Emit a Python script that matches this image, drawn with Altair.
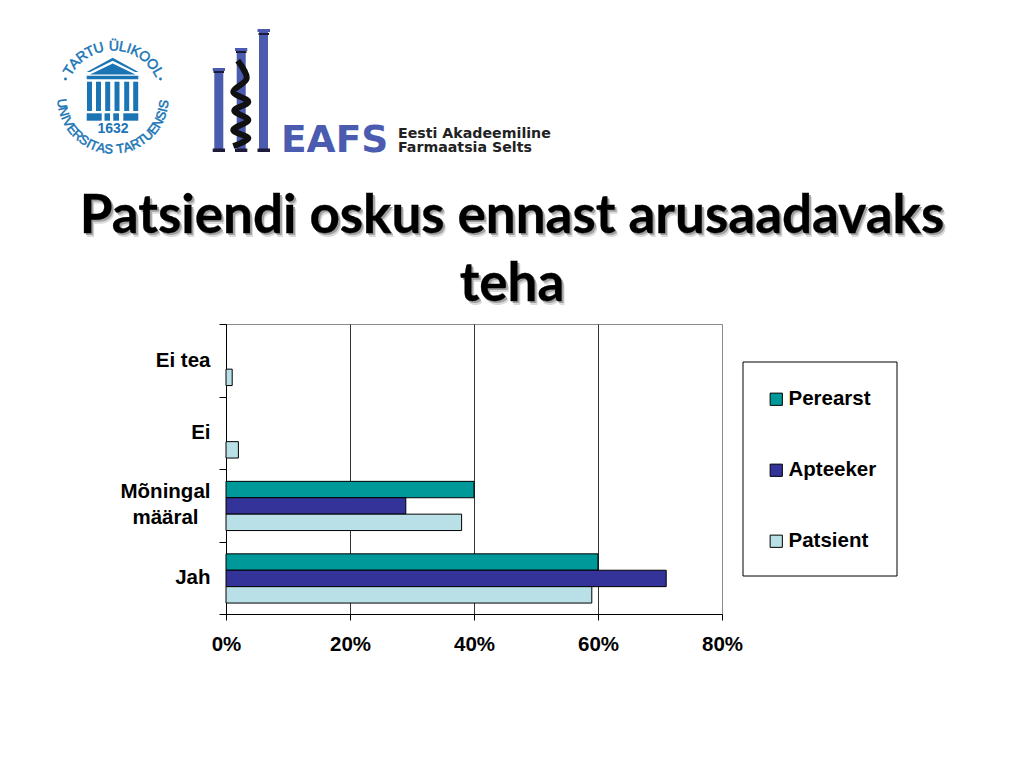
import math
import altair as alt
import pandas as pd

categories = ["Ei tea", "Ei", "Mõningal määral", "Jah"]
series = ["Perearst", "Apteeker", "Patsient"]
perearst = [0, 0, 40, 60]
apteeker = [0, 0, 29, 71]
patsient = [1, 2, 38, 59]
colors = ["#009999", "#333399", "#B9E0E6"]
x_ticks = [0, 20, 40, 60, 80]

OX, OY = 226, 324  # page position of the plot origin
W, H = 496, 290
FONT = "Liberation Sans"
SEAL = "#1B75B5"
EAFS = "#4A5BB0"
LABEL_SIZE = 20.5

rows = []
for name, vals in zip(series, [perearst, apteeker, patsient]):
    for c, v in zip(categories, vals):
        if v > 0:
            rows.append({"cat": c, "series": name, "v": v})
bars_df = pd.DataFrame(rows)

# The two-line category label is centred on itself, so it is a text layer on the same band scale
label_expr = "datum.value == 'Mõningal määral' ? '' : datum.value"

y_enc = alt.Y("cat:N", sort=categories,
              scale=alt.Scale(domain=categories, paddingInner=0, paddingOuter=0),
              title=None,
              axis=alt.Axis(tickBand="extent", labelExpr=label_expr, domainColor="#000000",
                            tickColor="#000000", tickSize=7, labelPadding=9, grid=False,
                            labelFont=FONT, labelFontWeight="bold", labelFontSize=LABEL_SIZE,
                            labelColor="#000000"))

bars = alt.Chart(bars_df).mark_bar(stroke="#000000", strokeWidth=1, opacity=1).encode(
    x=alt.X("v:Q",
            scale=alt.Scale(domain=[0, 80], nice=False),
            title=None,
            axis=alt.Axis(values=x_ticks, labelExpr="datum.value + '%'", grid=True,
                          gridColor={"expr": "datum.value == 80 ? '#8a8a8a' : '#333333'"},
                          gridOpacity=1, gridWidth=1, domainColor="#000000",
                          tickColor="#000000", tickSize=6, labelPadding=14,
                          labelFont=FONT, labelFontWeight="bold", labelFontSize=LABEL_SIZE,
                          labelColor="#000000", labelFlush=False, labelOverlap=False)),
    y=y_enc,
    yOffset=alt.YOffset("series:N", sort=series,
                        scale=alt.Scale(domain=series, paddingInner=0, paddingOuter=0.71,
                                        align=0.53)),
    color=alt.Color("series:N", sort=series,
                    scale=alt.Scale(domain=series, range=colors),
                    legend=alt.Legend(orient="none", legendX=540, legendY=65, title=None,
                                      symbolType="square", symbolSize=150,
                                      symbolStrokeColor="#000000", symbolStrokeWidth=1,
                                      symbolOpacity=1,
                                      labelFont=FONT, labelFontWeight="bold",
                                      labelFontSize=LABEL_SIZE,
                                      labelColor="#000000", labelOffset=2, rowPadding=50,
                                      padding=0)),
)


def cat_line(text, dy):
    df = pd.DataFrame({"cat": ["Mõningal määral"], "t": [text]})
    return alt.Chart(df).mark_text(font=FONT, fontWeight="bold", fontSize=LABEL_SIZE,
                                   color="#000000", align="center", baseline="middle",
                                   dy=dy).encode(
        x=alt.value(165.5 - OX), y=y_enc, text="t:N")


def px(v):
    return alt.X(v, scale=None, axis=None, title=None)


def py(v):
    return alt.Y(v, scale=None, axis=None, title=None)


def text_layer(items, **kw):
    df = pd.DataFrame([{"x": a - OX, "y": b - OY, "t": t} for a, b, t in items])
    return alt.Chart(df).mark_text(font=kw.pop("font", FONT), **kw).encode(
        x=px("x:Q"), y=py("y:Q"), text="t:N")


def rect_layer(items, fill, **kw):
    df = pd.DataFrame([{"x": a - OX, "x2": b - OX, "y": c - OY, "y2": d - OY}
                       for a, b, c, d in items])
    return alt.Chart(df).mark_rect(fill=fill, **kw).encode(
        x=px("x:Q"), x2="x2:Q", y=py("y:Q"), y2="y2:Q")


def polygon(points, fill):
    df = pd.DataFrame([{"x": a - OX, "y": b - OY, "i": i} for i, (a, b) in enumerate(points)])
    return alt.Chart(df).mark_line(color=fill, filled=True, fill=fill, strokeWidth=0).encode(
        x=px("x:Q"), y=py("y:Q"), order="i:Q")


legend_box = rect_layer([(743, 897, 362, 576)], "#FFFFFF", stroke="#000000", strokeWidth=1)

# Title with its soft shadow
title_lines = [(512, 232.5, "Patsiendi oskus ennast arusaadavaks"), (512, 301, "teha")]
TITLE = dict(font="Lato", fontSize=53, fontWeight="bold", align="center", baseline="alphabetic")
shadow2 = text_layer([(a + 3, b + 4, t) for a, b, t in title_lines], color="#DADADA", **TITLE)
shadow = text_layer([(a + 2, b + 2, t) for a, b, t in title_lines], color="#A0A0A0", **TITLE)
title = text_layer(title_lines, color="#000000", stroke="#000000", strokeWidth=0.3, **TITLE)

# EAFS logo
col_rects = [(214.3, 223.3, 68, 152), (236.7, 245.7, 48, 152), (259, 268, 29, 152)]
col_tops = [(212.7, 225, 68, 71), (235, 247.3, 48, 51), (257.5, 270, 29, 32)]
col_caps = [(213.5, 224, 71, 73), (236, 246.5, 51, 53), (258.5, 269, 33, 35),
            (212.7, 225, 148.5, 152), (235, 247.3, 148.5, 152), (257.5, 270, 148.5, 152)]
snake_x = [237.7, 246.7, 233.3, 248.3, 234.3, 248.3, 233.3, 248.3, 233.3]
snake_y = [60.7, 78.3, 91.7, 101.7, 110.7, 120, 130, 138.3, 146]
snake_df = pd.DataFrame({"x": [a - OX for a in snake_x], "y": [b - OY for b in snake_y],
                         "i": list(range(len(snake_x)))})
snake = alt.Chart(snake_df).mark_line(color="#111111", strokeWidth=6, interpolate="cardinal").encode(
    x=px("x:Q"), y=py("y:Q"), order="i:Q")
eafs = text_layer([(281, 152, "EAFS")], font="DejaVu Sans", fontSize=37.5, fontWeight="bold",
                  color=EAFS, align="left", baseline="alphabetic")
eafs_name = text_layer([(398, 138, "Eesti Akadeemiline"), (398, 152, "Farmaatsia Selts")],
                       font="DejaVu Sans", fontSize=14.2, fontWeight="bold", color="#222222",
                       align="left", baseline="alphabetic")

# University seal
CX, CY, R = 113, 98, 51.5
WIDTHS = {" ": .36, "I": .32, "L": .56, "T": .6, "E": .66, "S": .66, "A": .68, "K": .68, "V": .68,
          "N": .72, "R": .72, "U": .72, "Ü": .72, "O": .78}


def arc(text, start, end, flip):
    w = [WIDTHS[c] for c in text]
    total = sum(w) - (w[0] + w[-1]) / 2
    out, run = [], 0.0
    for i, ch in enumerate(text):
        th = start + (end - start) * run / total
        if ch != " ":
            out.append({"x": CX + R * math.sin(math.radians(th)) - OX,
                        "y": CY - R * math.cos(math.radians(th)) - OY,
                        "t": ch, "a": (th - (180 if flip else 0)) % 360})
        if i < len(text) - 1:
            run += (w[i] + w[i + 1]) / 2
    return out


seal_top = alt.Chart(pd.DataFrame(arc("TARTU ÜLIKOOL", -58, 60, False))).mark_text(
    font=FONT, fontSize=14, color=SEAL, stroke=SEAL, strokeWidth=0.5,
    align="center", baseline="middle").encode(
    x=px("x:Q"), y=py("y:Q"), text="t:N", angle=alt.Angle("a:Q", scale=None))
seal_bottom = alt.Chart(pd.DataFrame(arc("UNIVERSITAS TARTUENSIS", 264, 97, True))).mark_text(
    font=FONT, fontSize=13, color=SEAL, stroke=SEAL, strokeWidth=0.5,
    align="center", baseline="middle").encode(
    x=px("x:Q"), y=py("y:Q"), text="t:N", angle=alt.Angle("a:Q", scale=None))
seal_dots = alt.Chart(pd.DataFrame({"x": [65.5 - OX, 160.5 - OX], "y": [79 - OY, 79 - OY]})).mark_point(
    filled=True, color=SEAL, size=8, opacity=1).encode(x=px("x:Q"), y=py("y:Q"))
roof_outer = polygon([(112.7, 57.7), (138.5, 72), (86.7, 72), (112.7, 57.7)], SEAL)
roof_gap = polygon([(112.7, 60.8), (141, 75), (84, 75), (112.7, 60.8)], "#FFFFFF")
roof_inner = polygon([(112.7, 63.5), (135.5, 74.5), (90, 74.5), (112.7, 63.5)], SEAL)
seal_rects = rect_layer(
    [(86.7, 138.3, 75.7, 79.3),
     (87, 92, 81.7, 111), (96, 101, 81.7, 111), (105.2, 110.2, 81.7, 111),
     (114.5, 119.5, 81.7, 111), (124.2, 129.2, 81.7, 111), (133.2, 138.2, 81.7, 111),
     (86.7, 101.7, 113.3, 120.7), (104.5, 110, 113.3, 120.7), (113.3, 119, 113.3, 120.7),
     (123.3, 138.3, 113.3, 120.7)],
    SEAL)
year = text_layer([(113, 128.5, "1632")], fontSize=14, fontWeight="bold", color=SEAL,
                  align="center", baseline="middle")

chart = alt.layer(
    legend_box, bars, cat_line("Mõningal", -13), cat_line("määral", 13),
    shadow2, shadow, title,
    rect_layer(col_rects, EAFS), rect_layer(col_tops, EAFS), rect_layer(col_caps, "#1c1c3a"),
    snake, eafs, eafs_name,
    seal_top, seal_bottom, seal_dots, roof_outer, roof_gap, roof_inner, seal_rects, year,
).properties(
    width=W, height=H,
    padding={"left": OX - 8, "top": OY - 8, "right": 1008 - OX - W, "bottom": 752 - OY - H},
    autosize=alt.AutoSizeParams(type="none"),
    background="#FFFFFF",
).configure_view(stroke="#8a8a8a", strokeWidth=1)

chart.save("out.html", embed_options={"renderer": "svg", "actions": False})
